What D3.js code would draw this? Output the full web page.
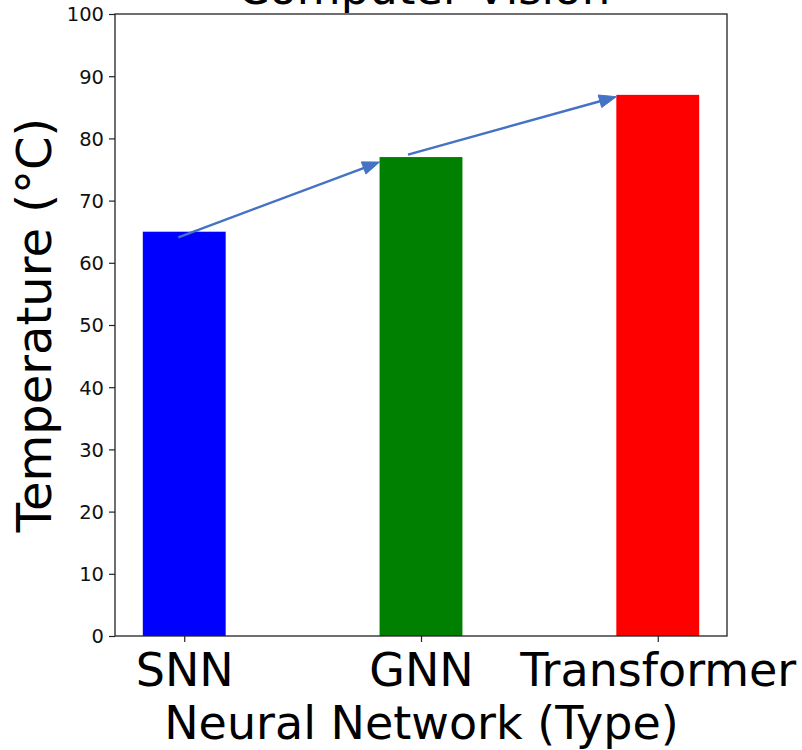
<!DOCTYPE html>
<html>
<head>
<meta charset="utf-8">
<script src="https://cdn.jsdelivr.net/npm/d3@7"></script>
<style>
  html, body { margin: 0; padding: 0; background: #fff; }
  svg { display: block; font-family: "DejaVu Sans", sans-serif; }
</style>
</head>
<body>
<svg id="chart" width="802" height="750"></svg>
<script>
// ---- data ----
const categories = ["SNN", "GNN", "Transformer"];
const values = [65, 77, 87];
const barColors = ["#0000ff", "#008000", "#ff0000"];
const yTicks = [0, 10, 20, 30, 40, 50, 60, 70, 80, 90, 100];
// arrow annotations (data coordinates: category index, temperature)
const arrowFromX = [-0.025, 0.945];
const arrowFromY = [64.1, 77.4];
const arrowToX = [0.825, 1.825];
const arrowToY = [76.2, 86.7];
const titleText = "Computer Vision";
const xLabel = "Neural Network (Type)";
const yLabel = "Temperature (°C)";

// ---- layout ----
const plotLeft = 115, plotRight = 727, plotTop = 14, plotBottom = 636;
const barWidth = 0.35;
const svg = d3.select("#chart");

const x = d3.scaleLinear().domain([-0.2925, 2.2925]).range([plotLeft, plotRight]);
const y = d3.scaleLinear().domain([0, 100]).range([plotBottom, plotTop]);

// bars
svg.append("g").selectAll("rect")
  .data(values)
  .join("rect")
  .attr("x", (d, i) => x(i - barWidth / 2))
  .attr("width", (d, i) => x(i + barWidth / 2) - x(i - barWidth / 2))
  .attr("y", d => y(d))
  .attr("height", d => y(0) - y(d))
  .attr("fill", (d, i) => barColors[i]);

// arrows
const arrowColor = "#4472c4";
const headLen = 17, headHalf = 6.5;
const ag = svg.append("g");
arrowFromX.forEach((fx, i) => {
  const x0 = x(fx), y0 = y(arrowFromY[i]);
  const x1 = x(arrowToX[i]), y1 = y(arrowToY[i]);
  const dx = x1 - x0, dy = y1 - y0;
  const len = Math.hypot(dx, dy);
  const ux = dx / len, uy = dy / len;
  const bx = x1 - ux * headLen, by = y1 - uy * headLen;
  ag.append("line")
    .attr("x1", x0).attr("y1", y0)
    .attr("x2", bx + ux * 2).attr("y2", by + uy * 2)
    .attr("stroke", arrowColor).attr("stroke-width", 2.4);
  const px = -uy, py = ux;
  ag.append("path")
    .attr("d", `M${x1},${y1}L${bx + px * headHalf},${by + py * headHalf}L${bx - px * headHalf},${by - py * headHalf}Z`)
    .attr("fill", arrowColor).attr("stroke", arrowColor).attr("stroke-width", 1).attr("stroke-linejoin", "miter");
});

// y axis
const yAxis = d3.axisLeft(y).tickValues(yTicks).tickSize(6).tickPadding(5).tickFormat(d3.format("d"));
const yg = svg.append("g").attr("transform", `translate(${plotLeft},0)`).call(yAxis);
yg.select(".domain").remove();
yg.selectAll(".tick line").attr("stroke", "#222").attr("stroke-width", 1.2);
yg.selectAll(".tick text").attr("font-size", 19.5).attr("fill", "#111")
  .attr("font-family", "DejaVu Sans").attr("dy", "0.35em");

// x axis
const xAxis = d3.axisBottom(x).tickValues(categories.map((c, i) => i))
  .tickFormat(i => categories[i]).tickSize(6).tickPadding(6);
const xg = svg.append("g").attr("transform", `translate(0,${plotBottom})`).call(xAxis);
xg.select(".domain").remove();
xg.selectAll(".tick line").attr("stroke", "#222").attr("stroke-width", 1.2);
xg.selectAll(".tick text").attr("font-size", 46).attr("fill", "#000")
  .attr("font-family", "DejaVu Sans").attr("dy", null).attr("y", 50);

// frame
svg.append("rect")
  .attr("x", plotLeft).attr("y", plotTop)
  .attr("width", plotRight - plotLeft).attr("height", plotBottom - plotTop)
  .attr("fill", "none").attr("stroke", "#222").attr("stroke-width", 1.3);

// labels
svg.append("text")
  .attr("x", 421.5).attr("y", 739)
  .attr("text-anchor", "middle").attr("font-size", 46).attr("fill", "#000")
  .text(xLabel);

svg.append("text")
  .attr("transform", `translate(51,${(plotTop + plotBottom) / 2}) rotate(-90)`)
  .attr("text-anchor", "middle").attr("font-size", 48).attr("fill", "#000")
  .text(yLabel);

svg.append("text")
  .attr("x", 424).attr("y", 4)
  .attr("text-anchor", "middle").attr("font-size", 45).attr("fill", "#000")
  .text(titleText);
</script>
</body>
</html>
